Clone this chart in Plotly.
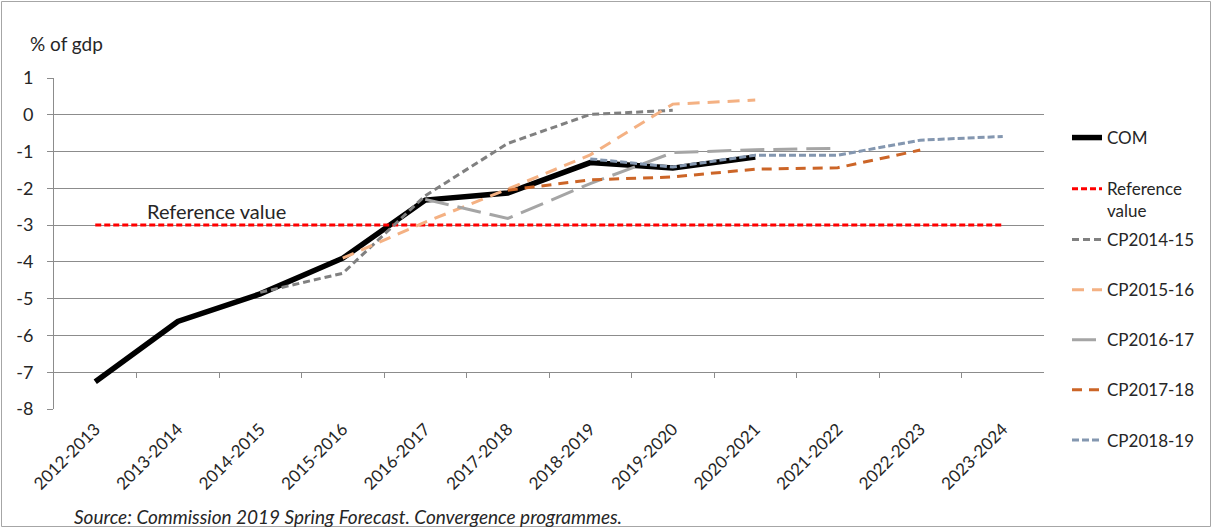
import plotly.graph_objects as go

# Budget balance, % of GDP: Commission forecast vs. convergence programmes
years = ["2012-2013", "2013-2014", "2014-2015", "2015-2016", "2016-2017", "2017-2018",
         "2018-2019", "2019-2020", "2020-2021", "2021-2022", "2022-2023", "2023-2024"]

com = [-7.26, -5.62, -4.87, -3.9, -2.32, -2.13, -1.3, -1.45, -1.15]
reference = [-3.0] * 12
cp_2014_15 = [None, None, -4.83, -4.31, -2.2, -0.78, 0.01, 0.12]
cp_2015_16 = [None, None, None, -3.9, -2.92, -2.02, -1.09, 0.29, 0.4]
cp_2016_17 = [None, None, None, None, -2.3, -2.82, -1.87, -1.03, -0.95, -0.91]
cp_2017_18 = [None, None, None, None, None, -2.05, -1.77, -1.69, -1.48, -1.44, -0.96]
cp_2018_19 = [None, None, None, None, None, None, -1.2, -1.42, -1.1, -1.1, -0.69, -0.59]

y_ticks = list(range(-8, 2))
y_tick_text = [str(v) for v in y_ticks]  # plain hyphen as minus sign

FONT = "Lato"
GRID = "#8c8c8c"
TEXT = "#262626"

# plot-area geometry in pixels (used to turn pixel offsets into paper units)
W, H = 1212, 528
ML, MR, MT, MB = 54, 168, 78, 119
PW, PH = W - ML - MR, H - MT - MB
Y_MIN, Y_MAX = -8, 1


def py(px_from_top):
    return (H - MB - px_from_top) / PH


def px(px_from_left):
    return (px_from_left - ML) / PW


fig = go.Figure()

series = [
    ("COM", com, dict(color="#000000", width=5.5), "legend"),
    ("Reference<br>value", reference, dict(color="#ff0000", width=3, dash="6px,3px"), "legend"),
    ("CP2014-15", cp_2014_15, dict(color="#808080", width=3, dash="7px,4px"), "legend2"),
    ("CP2015-16", cp_2015_16, dict(color="#f4b183", width=3, dash="12px,8px"), "legend2"),
    ("CP2016-17", cp_2016_17, dict(color="#a5a5a5", width=3, dash="24px,9px"), "legend2"),
    ("CP2017-18", cp_2017_18, dict(color="#cc6527", width=3, dash="10px,7px"), "legend2"),
    ("CP2018-19", cp_2018_19, dict(color="#8497b0", width=3, dash="7px,3px"), "legend2"),
]

for name, vals, line, leg in series:
    fig.add_trace(go.Scatter(
        x=years[:len(vals)], y=vals, name=name, mode="lines", line=line,
        legend=leg, legendgroup=name, connectgaps=False, hoverinfo="x+y+name",
    ))

# empty trace that carries the overlay axis holding the category boundary ticks
fig.add_trace(go.Scatter(x=[], y=[], xaxis="x2", showlegend=False, hoverinfo="skip"))

fig.update_layout(
    width=W, height=H,
    margin=dict(l=ML, r=MR, t=MT, b=MB),
    paper_bgcolor="white", plot_bgcolor="white",
    font=dict(family=FONT, size=17, color=TEXT),
    xaxis=dict(
        type="category", categoryorder="array", categoryarray=years,
        range=[-0.5, len(years) - 0.5],
        showgrid=False, zeroline=False, showline=False,
        ticks="", tickangle=-45, ticklabelstandoff=6,
        tickfont=dict(family=FONT, size=17, color=TEXT),
    ),
    xaxis2=dict(
        overlaying="x", anchor="free", side="bottom",
        position=(-7 - Y_MIN) / (Y_MAX - Y_MIN),
        range=[-0.5, len(years) - 0.5],
        tickmode="array", tickvals=[i + 0.5 for i in range(len(years) - 1)],
        ticks="outside", ticklen=5, tickcolor=GRID, tickwidth=1,
        showticklabels=False, showgrid=False, zeroline=False, showline=False,
    ),
    yaxis=dict(
        range=[Y_MIN, Y_MAX], tickmode="array", tickvals=y_ticks, ticktext=y_tick_text,
        showgrid=True, gridcolor=GRID, gridwidth=1,
        zeroline=False, showline=True, linecolor=GRID, linewidth=1,
        ticks="outside", ticklen=6, tickcolor=GRID,
        ticklabelstandoff=10,
        tickfont=dict(family=FONT, size=18, color=TEXT),
    ),
    legend=dict(
        x=px(1067), xanchor="left", y=py(120), yanchor="top",
        traceorder="grouped", tracegroupgap=26, valign="top",
        font=dict(family=FONT, size=17, color=TEXT),
        bgcolor="rgba(0,0,0,0)",
    ),
    legend2=dict(
        x=px(1067), xanchor="left", y=py(222), yanchor="top",
        traceorder="grouped", tracegroupgap=25, valign="top",
        font=dict(family=FONT, size=17, color=TEXT),
        bgcolor="rgba(0,0,0,0)",
    ),
    showlegend=True,
)

fig.add_annotation(
    text="% of gdp", xref="paper", yref="paper", x=px(28), y=py(44),
    xanchor="left", yanchor="middle", showarrow=False,
    font=dict(family=FONT, size=19, color=TEXT),
)
fig.add_annotation(
    text="Reference value", xref="x", yref="y", x=1.47, y=-3,
    xanchor="center", yanchor="bottom", yshift=0, showarrow=False,
    font=dict(family=FONT, size=20, color=TEXT),
)
fig.add_annotation(
    text="<i>Source: Commission 2019 Spring Forecast. Convergence programmes.</i>",
    xref="paper", yref="paper", x=px(72), y=py(516),
    xanchor="left", yanchor="middle", showarrow=False,
    font=dict(family=FONT, size=19, color=TEXT),
)

# thin frame round the whole chart
fig.add_shape(
    type="rect", xref="paper", yref="paper",
    x0=px(1.5), x1=px(W - 1.5), y0=py(H - 1.5), y1=py(1.5),
    line=dict(color="#a6a6a6", width=1), fillcolor="rgba(0,0,0,0)", layer="below",
)

fig.write_html("out.html")
